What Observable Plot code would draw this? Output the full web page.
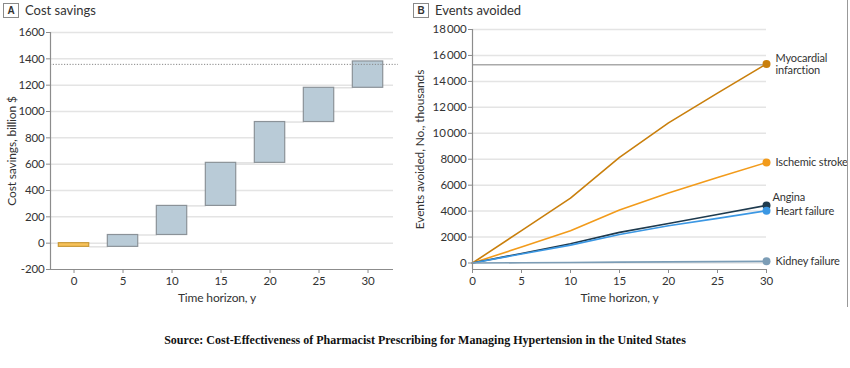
<!DOCTYPE html>
<html>
<head>
<meta charset="utf-8">
<script src="https://cdn.jsdelivr.net/npm/d3@7"></script>
<script src="https://cdn.jsdelivr.net/npm/@observablehq/plot@0.6"></script>
<style>
  html, body { margin: 0; padding: 0; background: #fff; }
  #wrap { position: relative; width: 850px; height: 368px; overflow: hidden;
    font-family: Lato, "Roboto", sans-serif; color: #333; }
  .panel { position: absolute; top: 0; }
  .hdr { position: absolute; top: 2px; display: flex; align-items: center; font-size: 13px; color: #333; }
  .box { width: 14px; height: 13px; border: 1px solid #8a8a8a; display: flex; align-items: center; justify-content: center;
    font-size: 10px; font-weight: bold; margin-right: 6px; font-family: "Liberation Sans", Arial, sans-serif; }
  #caption { position: absolute; left: 0; width: 850px; top: 333px; text-align: center;
    font-family: "Liberation Serif", "Times New Roman", serif; font-weight: bold; font-size: 12px; color: #111; }
  #rborder { position: absolute; left: 847px; top: 0; width: 1px; height: 307px; background: #999; }
  .panel svg text { letter-spacing: -0.15px; }
  .endlabel text { letter-spacing: -0.3px; }
</style>
</head>
<body>
<div id="wrap">
  <div class="hdr" style="left:3px"><div class="box">A</div>Cost savings</div>
  <div class="hdr" style="left:413px"><div class="box">B</div>Events avoided</div>
  <div id="panelA" class="panel" style="left:0px"></div>
  <div id="panelB" class="panel" style="left:410px"></div>
  <div id="rborder"></div>
  <div id="caption">Source: Cost-Effectiveness of Pharmacist Prescribing for Managing Hypertension in the United States</div>
</div>
<script>
// ---------- Data ----------
// Panel A: cumulative cost savings (billion $) by time horizon (years)
const years = [0, 5, 10, 15, 20, 25, 30];
const cumulativeSavings = [-28, 62, 283, 610, 920, 1180, 1380];
const savingsReference = 1358;
const costTicks = [-200, 0, 200, 400, 600, 800, 1000, 1200, 1400, 1600];

// Panel B: events avoided (thousands)
const horizon = [0, 5, 10, 15, 20, 25, 30];
const myocardialInfarction = [0, 2500, 5000, 8150, 10800, 13100, 15350];
const ischemicStroke = [0, 1230, 2480, 4080, 5400, 6600, 7750];
const angina = [0, 740, 1490, 2360, 3050, 3740, 4440];
const heartFailure = [0, 690, 1380, 2200, 2870, 3440, 4030];
const kidneyFailure = [0, 20, 45, 65, 90, 110, 130];
const miReference = 15280;
const eventTicks = [0, 2000, 4000, 6000, 8000, 10000, 12000, 14000, 16000, 18000];

const seriesNames = ["Myocardial\ninfarction", "Ischemic stroke", "Angina", "Heart failure", "Kidney failure"];
const seriesValues = [myocardialInfarction, ischemicStroke, angina, heartFailure, kidneyFailure];
const seriesColors = ["#c97f0c", "#f29b1b", "#1e3a4e", "#3b97e3", "#7c9db6"];

const FONT = 'Lato, "Roboto", sans-serif';
const AXIS = "#8c8c8c";
const GRID = "#e4e4e4";
const plainFmt = d => String(d);

// ---------- Panel A ----------
const half = 1.55;
const bars = years.map((t, i) => ({
  t, start: i === 0 ? 0 : cumulativeSavings[i - 1], end: cumulativeSavings[i], first: i === 0
}));
const connectors = years.slice(0, -1).map((t, i) => ({ x1: t + half, x2: years[i + 1] - half, y: cumulativeSavings[i] }));
const xDomA = [-2.4, 32.6];

const plotA = Plot.plot({
  width: 410, height: 310,
  marginLeft: 50, marginRight: 17, marginTop: 32, marginBottom: 41,
  x: { domain: xDomA },
  y: { domain: [-200, 1600] },
  style: { fontFamily: FONT, fontSize: "11.5px", color: "#333", background: "transparent", overflow: "visible" },
  marks: [
    Plot.ruleY(costTicks.filter(d => d > -200), { stroke: GRID, strokeWidth: 1.5 }),
    Plot.link(connectors, { x1: "x1", x2: "x2", y1: "y", y2: "y", stroke: "#dadada", strokeWidth: 1.2 }),
    Plot.rect(bars, {
      x1: d => d.t - half, x2: d => d.t + half, y1: "start", y2: "end",
      fill: d => d.first ? "#f7c25a" : "#b9cbd7",
      stroke: d => d.first ? "#c99a3a" : "#8b9298", strokeWidth: 1.2
    }),
    Plot.ruleY([savingsReference], { x1: xDomA[0], x2: 33.1, stroke: "#888", strokeWidth: 1, strokeDasharray: "1.2,1.6" }),
    Plot.ruleX([xDomA[0]], { stroke: AXIS, strokeWidth: 1.2 }),
    Plot.ruleY([-200], { stroke: AXIS, strokeWidth: 1.2 }),
    Plot.axisY({ ticks: costTicks, tickSize: 4, tickPadding: 2, stroke: AXIS, label: null, tickFormat: plainFmt, fontSize: 11.5 }),
    Plot.axisX({ ticks: years, tickSize: 4, tickPadding: 3, stroke: AXIS, label: null, tickFormat: plainFmt, fontSize: 11.5 }),
    Plot.text(["Time horizon, y"], { frameAnchor: "bottom", lineAnchor: "middle", dy: 29, dx: -5, fontSize: 12, fill: "#333" }),
    Plot.text(["Cost savings, billion $"], { frameAnchor: "left", textAnchor: "middle", lineAnchor: "middle", rotate: -90, dx: -38, fontSize: 12, fill: "#333" })
  ]
});
document.getElementById("panelA").appendChild(plotA);

// ---------- Panel B ----------
const lineData = seriesNames.flatMap((name, s) =>
  horizon.map((t, i) => ({ name, t, v: seriesValues[s][i] })));
const endData = seriesNames.map((name, s) => ({ name, t: horizon[horizon.length - 1], v: seriesValues[s][horizon.length - 1] }));
const colorOf = name => seriesColors[seriesNames.indexOf(name)];
const fmt = d => d >= 10000 ? String(d).replace(/(\d+)(\d{3})$/, "$1\u2009$2") : String(d);

const plotB = Plot.plot({
  width: 440, height: 310,
  marginLeft: 62, marginRight: 84, marginTop: 29, marginBottom: 41,
  x: { domain: [0, 30] },
  y: { domain: [-500, 18000] },
  style: { fontFamily: FONT, fontSize: "11.5px", color: "#333", background: "transparent", overflow: "visible" },
  marks: [
    Plot.ruleY(eventTicks, { stroke: GRID, strokeWidth: 1.5 }),
    Plot.ruleY([miReference], { stroke: "#aaaaaa", strokeWidth: 1.6 }),
    Plot.line(lineData, { x: "t", y: "v", z: "name", stroke: d => colorOf(d.name), strokeWidth: 1.6 }),
    Plot.dot(endData, { x: "t", y: "v", r: 4, fill: d => colorOf(d.name), stroke: "none" }),
    Plot.text(endData.filter(d => d.name !== "Angina"), {
      x: "t", y: "v", text: "name", textAnchor: "start", dx: 9, fontSize: 11, fill: "#333", lineHeight: 1.1, className: "endlabel"
    }),
    Plot.text(endData.filter(d => d.name === "Angina"), {
      x: "t", y: "v", text: "name", textAnchor: "start", dx: 6, dy: -8, fontSize: 11, fill: "#333", className: "endlabel"
    }),
    Plot.ruleX([0], { stroke: AXIS, strokeWidth: 1.2 }),
    Plot.ruleY([-500], { stroke: AXIS, strokeWidth: 1.2 }),
    Plot.axisY({ ticks: eventTicks, tickSize: 4, tickPadding: 2, stroke: AXIS, label: null, tickFormat: fmt, fontSize: 11.5 }),
    Plot.axisX({ ticks: horizon, tickSize: 4, tickPadding: 3, stroke: AXIS, label: null, tickFormat: plainFmt, fontSize: 11.5 }),
    Plot.text(["Time horizon, y"], { frameAnchor: "bottom", lineAnchor: "middle", dy: 29, fontSize: 12, fill: "#333" }),
    Plot.text(["Events avoided, No., thousands"], { frameAnchor: "left", textAnchor: "middle", lineAnchor: "middle", rotate: -90, dx: -52, fontSize: 12, fill: "#333" })
  ]
});
document.getElementById("panelB").appendChild(plotB);
</script>
</body>
</html>
